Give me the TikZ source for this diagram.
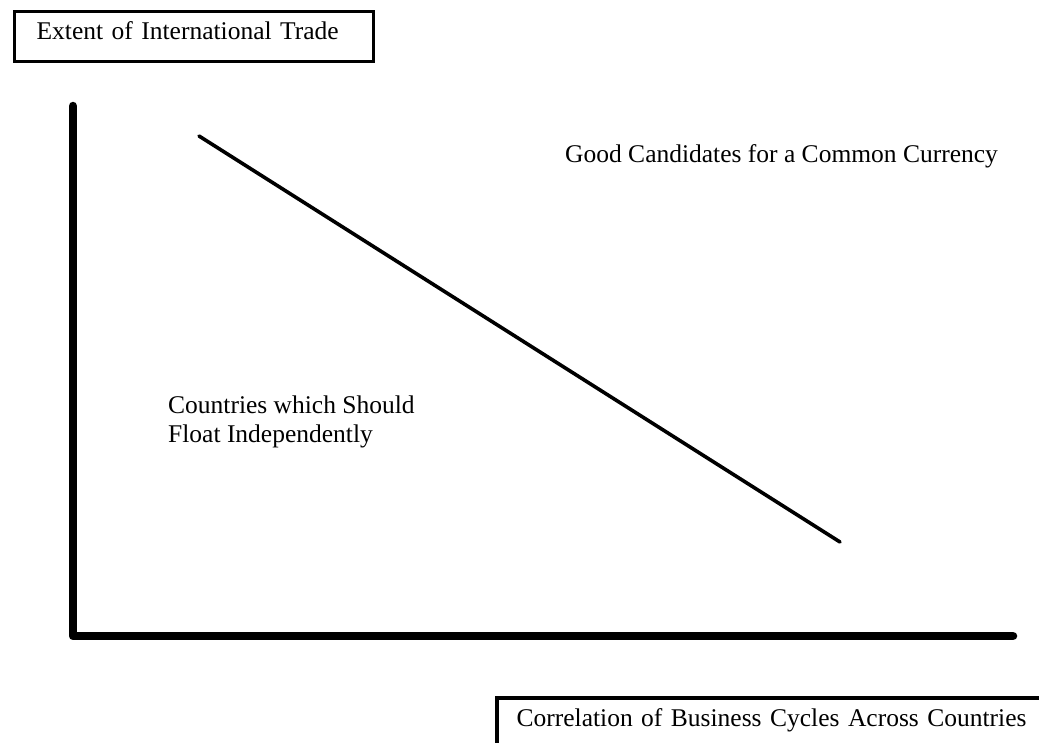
\documentclass[tikz,border=0pt]{standalone}
\usepackage{fontspec}
\setmainfont{Liberation Serif}
\begin{document}
\begin{tikzpicture}[x=1pt,y=-1pt,
  lbl/.style={font=\fontsize{25.5}{28.5}\selectfont, inner sep=0pt},
  framebox/.style={lbl, line width=3.2pt, align=left},
  axis/.style={line width=8.5pt, line cap=round, line join=round},
  divide/.style={line width=3.6pt, line cap=round}]
\fill[white] (0,0) rectangle (1039,742);
\useasboundingbox (0,0) rectangle (1039,742);

% y-axis title box
\node[framebox, draw, anchor=north west, inner xsep=22pt, inner ysep=4pt,
      text width=315pt, text height=24pt, text depth=18pt]
  (ytitle) at (13,10) {\mbox{Extent of International Trade}};

% x-axis title (open box: left and top edges)
\node[framebox, anchor=north west, inner xsep=18pt, inner ysep=3pt,
      text width=506pt, text height=24pt, text depth=14pt]
  (xtitle) at (497,698) {\mbox{Correlation of Business Cycles Across Countries}};
\coordinate (xedge) at (1039,698);
\draw[line width=3.6pt] (xtitle.south west) -- (xtitle.north west) -- (xedge);

% axes
\coordinate (ytop) at (73,106);
\coordinate (orig) at (73,636);
\coordinate (xend) at (1013,636);
\draw[axis] (ytop) -- (orig) -- (xend);

% dividing line
\coordinate (dstart) at (199,136);
\coordinate (dend) at (840,542);
\draw[divide] (dstart) -- (dend);

% region labels
\node[lbl, anchor=base west] (good) at (565,162) {Good Candidates for a Common Currency};
\node[lbl, anchor=base west, align=left] (float) at (168,442)
  {Countries which Should\\Float Independently};
\end{tikzpicture}
\end{document}
